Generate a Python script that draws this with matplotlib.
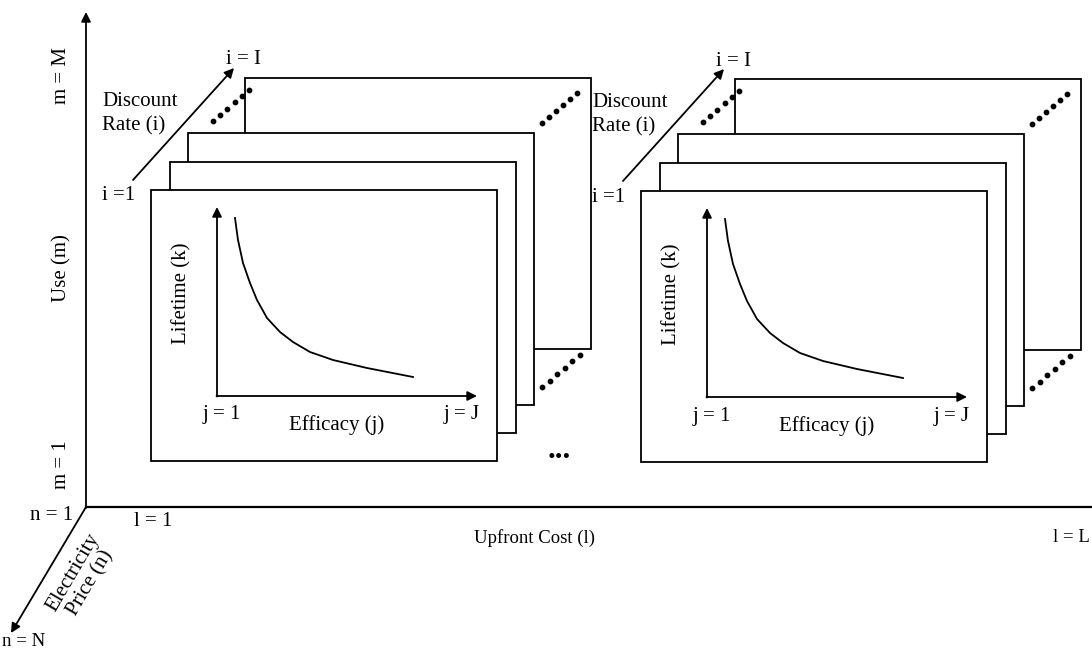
import numpy as np
import matplotlib.pyplot as plt

plt.rcParams['font.family'] = ['Liberation Serif', 'DejaVu Serif']
plt.rcParams['font.size'] = 15

# group origins (top-left corner of front frame), in pixels
group_origins = [(151, 190), (641, 191)]

# frames relative to the front frame origin: left, top, right, bottom (back to front)
frames = [(94, -112, 440, 159),
          (37, -57, 383, 215),
          (19, -28, 365, 243),
          (0, 0, 346, 271)]

# dotted runs between third and back frames: start, end
dot_runs = [((62, -69), (98, -100)),
            ((391, -67), (426, -97)),
            ((391, 197), (429, 165))]

# curve inside the front frame (Lifetime vs Efficacy)
curve_x = [84, 87, 92, 99, 106, 116, 129, 142, 159, 182, 216, 262]
curve_y = [28, 50, 73, 93, 110, 128, 142, 152, 162, 170, 178, 187]

inner_origin = (66, 206)
inner_y_tip = 17
inner_x_tip = 326

fig = plt.figure(figsize=(10.92, 6.52), dpi=100)
ax = fig.add_axes([0, 0, 1, 1])
ax.set_xlim(0, 1092)
ax.set_ylim(652, 0)
ax.axis('off')

lw = 1.3
arrow = dict(arrowstyle='-|>', lw=lw, color='black', mutation_scale=14,
             shrinkA=0, shrinkB=0)

# main axes
ax.annotate('', xy=(86, 12), xytext=(86, 508), arrowprops=arrow)
ax.plot([86, 1092], [507, 507], color='black', lw=1.6)
ax.annotate('', xy=(11, 633), xytext=(86, 507), arrowprops=arrow)

ax.text(62, 76, 'm = M', rotation=90, ha='center', va='center')
ax.text(62, 268, 'Use (m)', rotation=90, ha='center', va='center')
ax.text(62, 465, 'm = 1', rotation=90, ha='center', va='center')
ax.text(73, 516, 'n = 1', ha='right', va='center')
ax.text(153, 521, 'l = 1', ha='center', va='center')
ax.text(534, 538, 'Upfront Cost (l)', ha='center', va='center', fontsize=13.5)
ax.text(1090, 538, 'l = L', ha='right', va='center', fontsize=13.5)
ax.text(82, 578, 'Electricity\nPrice (n)', rotation=59.6, ha='center', va='center',
        linespacing=1.1, rotation_mode='anchor')
ax.text(24, 642, 'n = N', ha='center', va='center', fontsize=13.5)

for k, (gx, gy) in enumerate(group_origins):
    for z, (l, t, r, b) in enumerate(frames):
        ax.add_patch(plt.Rectangle((gx + l, gy + t), r - l, b - t, facecolor='white',
                                   edgecolor='black', lw=lw, zorder=2 + z))
    for (x0, y0), (x1, y1) in dot_runs:
        ax.scatter(gx + np.linspace(x0, x1, 6), gy + np.linspace(y0, y1, 6),
                   s=10, color='black', zorder=2.5)
    # inner plot
    ox, oy = inner_origin
    ax.annotate('', xy=(gx + ox, gy + inner_y_tip), xytext=(gx + ox, gy + oy + 0.5),
                arrowprops=arrow, zorder=10)
    ax.annotate('', xy=(gx + inner_x_tip, gy + oy), xytext=(gx + ox - 0.5, gy + oy),
                arrowprops=arrow, zorder=10)
    ax.plot(gx + np.array(curve_x), gy + np.array(curve_y), color='black', lw=lw, zorder=10)
    ax.text(gx + 31, gy + 103, 'Lifetime (k)', rotation=90, ha='center', va='center', zorder=10)
    ax.text(gx + 71, gy + 225, 'j = 1', ha='center', va='center', zorder=10)
    ax.text(gx + 186, gy + 235, 'Efficacy (j)', ha='center', va='center', zorder=10)
    ax.text(gx + 311, gy + 225, 'j = J', ha='center', va='center', zorder=10)
    # discount rate arrow
    ax.annotate('', xy=(gx + 83, gy - 122), xytext=(gx - 18, gy - 10), arrowprops=arrow)
    ax.text(gx + 92, gy - 130, 'i = I', ha='center', va='center')
    ax.text(gx - 49, gy - 76, 'Discount\nRate (i)', ha='left', va='center', linespacing=1.35)
    ax.text(gx - 49, gy + 6, 'i =1', ha='left', va='center')

ax.text(559, 450, '...', ha='center', va='center', fontsize=22, fontweight='bold')

fig.savefig('out.png', dpi=100)
